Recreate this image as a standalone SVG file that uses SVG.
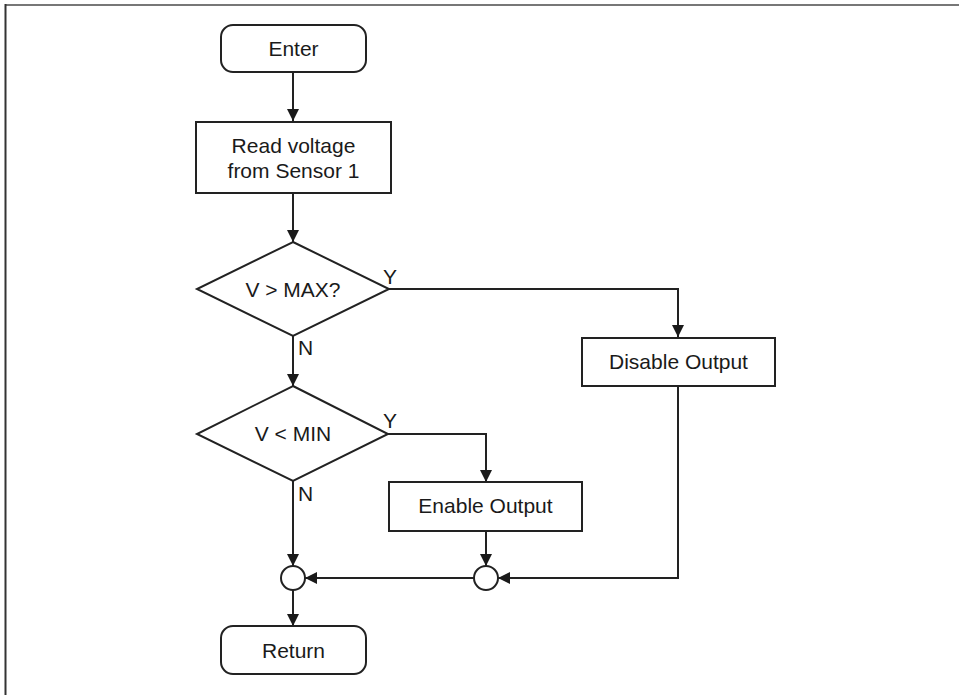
<svg xmlns="http://www.w3.org/2000/svg" width="959" height="695" viewBox="0 0 959 695">
<defs>
<marker id="arr" markerUnits="userSpaceOnUse" markerWidth="14" markerHeight="14" refX="12" refY="6" orient="auto">
<path d="M0,0 L12,6 L0,12 z" fill="#1a1a1a"/>
</marker>
<style>
.shape{fill:#fff;stroke:#222;stroke-width:2}
.edge{fill:none;stroke:#222;stroke-width:2;marker-end:url(#arr)}
.line{fill:none;stroke:#222;stroke-width:2}
text{font-family:"Liberation Sans",Arial,sans-serif;font-size:21px;fill:#1a1a1a}
.c{text-anchor:middle}
</style>
</defs>
<rect width="959" height="695" fill="#fff"/>
<line x1="5" y1="5" x2="959" y2="5" stroke="#777" stroke-width="2"/>
<line x1="5.5" y1="4" x2="5.5" y2="695" stroke="#333" stroke-width="2"/>

<g id="connectors">
<line class="edge" x1="293" y1="72" x2="293" y2="121"/>
<line class="edge" x1="293" y1="193" x2="293" y2="242"/>
<polyline class="edge" points="389,289 678,289 678,337"/>
<line class="edge" x1="293" y1="336" x2="293" y2="386"/>
<polyline class="edge" points="388,434 486,434 486,482"/>
<line class="edge" x1="293" y1="481" x2="293" y2="566"/>
<line class="edge" x1="486" y1="531" x2="486" y2="566"/>
<line class="edge" x1="474" y1="578" x2="305" y2="578"/>
<polyline class="edge" points="678,386 678,578 498,578"/>
<line class="edge" x1="293" y1="590" x2="293" y2="626"/>
<text x="383" y="284">Y</text>
<text x="298" y="355">N</text>
<text x="383" y="428">Y</text>
<text x="298" y="501">N</text>
</g>

<g id="enter">
<rect class="shape" x="221" y="25" width="145" height="47" rx="12"/>
<text class="c" x="293.5" y="56">Enter</text>
</g>
<g id="read">
<rect class="shape" x="196" y="122" width="195" height="71"/>
<text class="c" x="293.5" y="153">Read voltage</text>
<text class="c" x="293.5" y="178">from Sensor 1</text>
</g>
<g id="dec1">
<polygon class="shape" points="293,242 389,289 293,336 197,289"/>
<text class="c" x="293" y="296.5">V &gt; MAX?</text>
</g>
<g id="disable">
<rect class="shape" x="582" y="338" width="193" height="48"/>
<text class="c" x="678.5" y="369">Disable Output</text>
</g>
<g id="dec2">
<polygon class="shape" points="293,386 388,434 293,481 197,434"/>
<text class="c" x="293" y="441">V &lt; MIN</text>
</g>
<g id="enable">
<rect class="shape" x="389" y="482" width="193" height="49"/>
<text class="c" x="485.5" y="513">Enable Output</text>
</g>
<g id="join1">
<circle class="shape" cx="293" cy="578" r="12"/>
</g>
<g id="join2">
<circle class="shape" cx="486" cy="578" r="12"/>
</g>
<g id="return">
<rect class="shape" x="221" y="626" width="145" height="48" rx="12"/>
<text class="c" x="293.5" y="658">Return</text>
</g>
</svg>
